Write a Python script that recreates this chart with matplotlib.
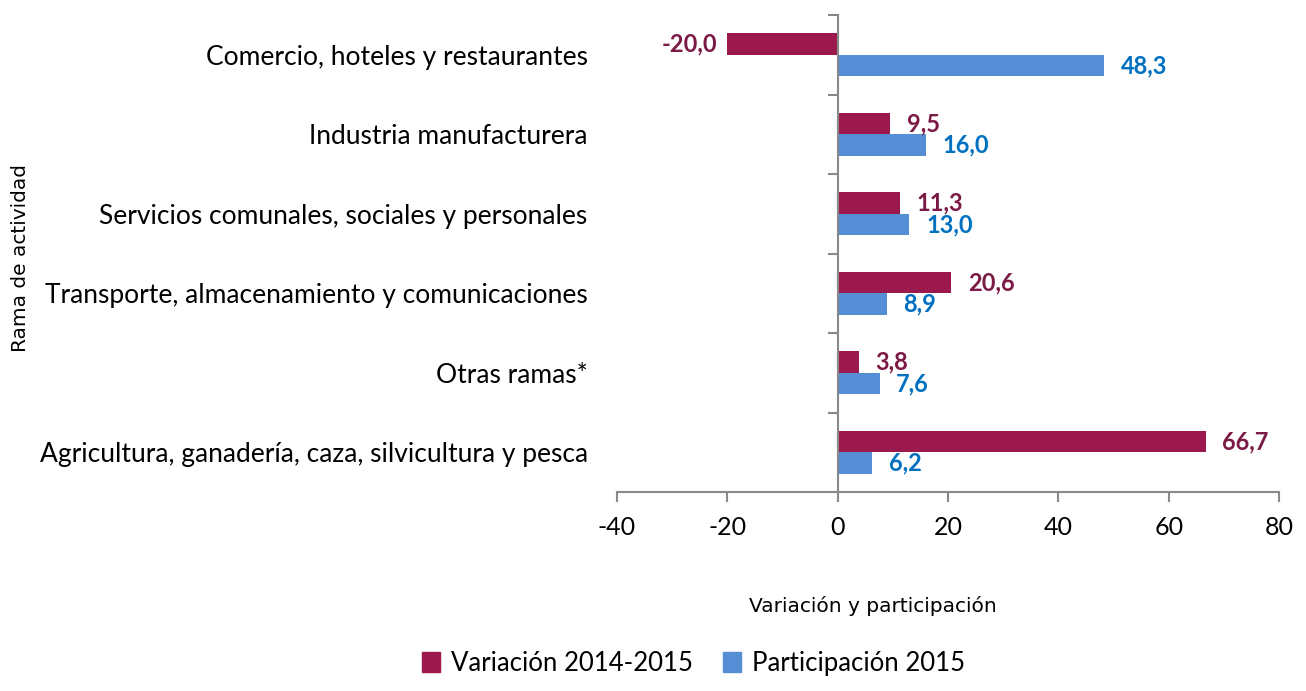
import matplotlib
matplotlib.use('Agg')
import matplotlib.pyplot as plt
import matplotlib.ticker as ticker
from matplotlib.patches import Patch
import numpy as np

# data
ramas = ['Comercio, hoteles y restaurantes',
         'Industria manufacturera',
         'Servicios comunales, sociales y personales',
         'Transporte, almacenamiento y comunicaciones',
         'Otras ramas*',
         'Agricultura, ganadería, caza, silvicultura y pesca']
variacion = [-20.0, 9.5, 11.3, 20.6, 3.8, 66.7]
participacion = [48.3, 16.0, 13.0, 8.9, 7.6, 6.2]
x_ticks = [-40, -20, 0, 20, 40, 60, 80]

c_var = '#9B194C'
c_var_txt = '#7B1A45'
c_par = '#558ED5'
c_par_txt = '#0070C0'
c_axis = '#898989'

plt.rcParams['font.family'] = ['Lato', 'DejaVu Sans']

fig = plt.figure(figsize=(13.06, 6.91), dpi=100)
ax = fig.add_axes([0.4724, 0.288, 0.507, 0.69])

y = np.arange(len(ramas))
h = 0.27
ax.barh(y - 0.135, variacion, height=h, color=c_var, label='Variación 2014-2015')
ax.barh(y + 0.135, participacion, height=h, color=c_par, label='Participación 2015')

def fmt(v):
    return f'{v:.1f}'.replace('.', ',')

for yi, v in zip(y, variacion):
    if v >= 0:
        ax.annotate(fmt(v), (v, yi - 0.135), xytext=(12, 0), textcoords='offset points',
                    ha='left', va='center', fontsize=17, fontweight='bold', color=c_var_txt)
    else:
        ax.annotate(fmt(v), (v, yi - 0.135), xytext=(-7, 0), textcoords='offset points',
                    ha='right', va='center', fontsize=17, fontweight='bold', color=c_var_txt)
for yi, v in zip(y, participacion):
    ax.annotate(fmt(v), (v, yi + 0.135), xytext=(12, 0), textcoords='offset points',
                ha='left', va='center', fontsize=17, fontweight='bold', color=c_par_txt)

ax.set_xlim(-40, 80)
ax.set_ylim(len(ramas) - 0.5, -0.5)
ax.set_xticks(x_ticks)
ax.xaxis.set_major_formatter(ticker.FuncFormatter(lambda v, p: f'{v:.0f}'))
ax.tick_params(axis='x', length=7, width=1.5, color=c_axis, labelsize=18, pad=10)

# vertical axis line sits at x = 0, category labels stay at the far left
ax.spines['left'].set_position(('data', 0))
ax.spines['left'].set_color(c_axis)
ax.spines['left'].set_linewidth(1.5)
ax.spines['bottom'].set_color(c_axis)
ax.spines['bottom'].set_linewidth(1.5)
ax.spines['top'].set_visible(False)
ax.spines['right'].set_visible(False)
ax.set_yticks(np.arange(len(ramas) + 1) - 0.5)
ax.yaxis.set_major_formatter(ticker.NullFormatter())
ax.set_yticks(y, minor=True)
ax.set_yticklabels(ramas, minor=True)
ax.tick_params(axis='y', which='major', length=7, width=1.5, color=c_axis)
ax.tick_params(axis='y', which='minor', length=0, labelsize=19, pad=180)

fig.text(0.016, 0.627, 'Rama de actividad', rotation=90, ha='center', va='center',
         fontsize=14.5, family='DejaVu Sans')
fig.text(0.668, 0.123, 'Variación y participación', ha='center', va='center',
         fontsize=14.5, family='DejaVu Sans')

fig.legend(handles=[Patch(color=c_var, label='Variación 2014-2015'),
                    Patch(color=c_par, label='Participación 2015')],
           loc='center', bbox_to_anchor=(0.531, 0.04), ncol=2, frameon=False,
           fontsize=18.5, handlelength=0.7, handleheight=0.8, handletextpad=0.4,
           columnspacing=1.2)

fig.savefig('out.png', dpi=100)
